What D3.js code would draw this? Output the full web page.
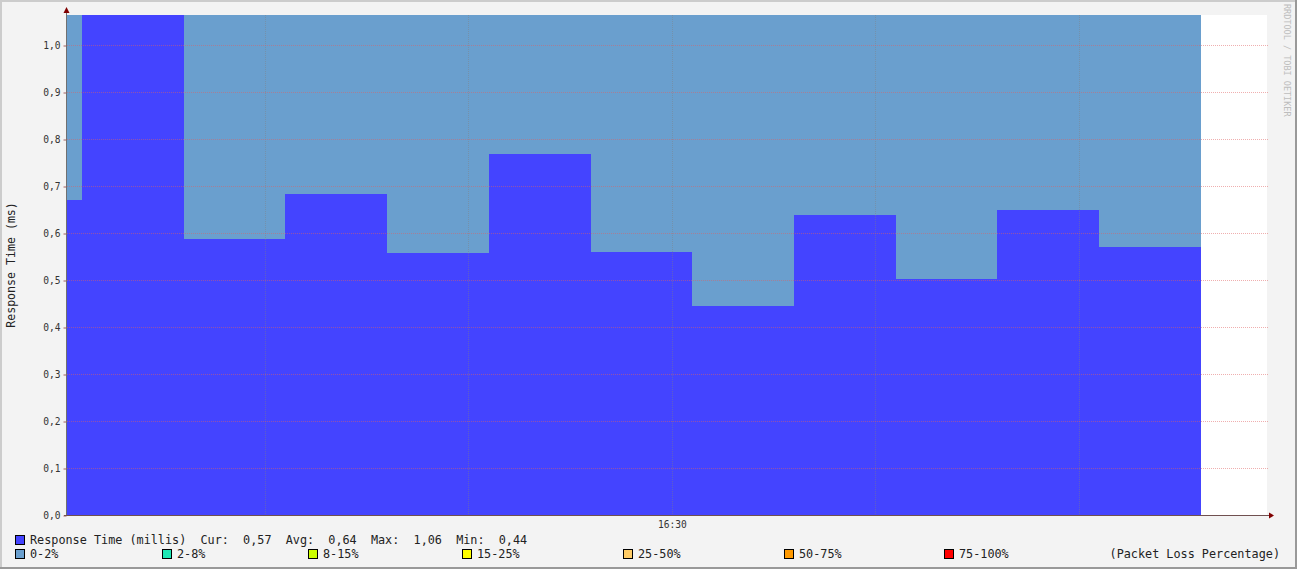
<!DOCTYPE html>
<html><head><meta charset="utf-8">
<script src="https://cdn.jsdelivr.net/npm/d3@7"></script>
<style>
html,body{margin:0;padding:0;background:#f3f3f3;}
svg{display:block;}
text{font-family:"DejaVu Sans Mono",monospace;}
</style></head>
<body><svg id="c" width="1297" height="569"></svg>
<script>
// ---- data ----
const stepEnds = ["16:01","16:06","16:11","16:16","16:21","16:26","16:31","16:36","16:41","16:46","16:51","16:56"];
const responseMs = [0.670, 1.064, 0.587, 0.683, 0.557, 0.768, 0.560, 0.445, 0.638, 0.502, 0.649, 0.570];
const lossPct = [0,0,0,0,0,0,0,0,0,0,0,0];
const yTicks = [0,0.1,0.2,0.3,0.4,0.5,0.6,0.7,0.8,0.9,1.0];
const xTickLabels = ["16:30"];
const lossBands = ["0-2%","2-8%","8-15%","15-25%","25-50%","50-75%","75-100%"];
const lossLimits = [2,8,15,25,50,75,100];
const lossColors = ["#6a9fce","#1de8b5","#ccff00","#ffff00","#ffcc66","#ff9900","#ff0000"];
const statNames = ["Cur","Avg","Max","Min"];
const statValues = ["0,57","0,64","1,06","0,44"];

const W=1297,H=569;
const svg=d3.select("#c");
const day=(hm,s=0)=>{const [h,m]=hm.split(":").map(Number);return new Date(2024,0,1,h,m,s);};
const L=67,R=1267,T=15,B=515;
const x=d3.scaleTime().domain([day("16:00",16),day("16:59",15)]).range([L,R]);
const y=d3.scaleLinear().domain([0,500/470]).range([B,T]);
const STEP=5*60*1000;
const loc=d3.formatLocale({decimal:",",thousands:".",grouping:[3],currency:["",""]});
const f1=loc.format(".1f");

// frame
svg.append("rect").attr("width",W).attr("height",H).attr("fill","#f3f3f3");
svg.append("rect").attr("x",0).attr("y",0).attr("width",W).attr("height",2).attr("fill","#cccccc");
svg.append("rect").attr("x",0).attr("y",0).attr("width",2).attr("height",H).attr("fill","#cccccc");
svg.append("rect").attr("x",W-2).attr("y",0).attr("width",2).attr("height",H).attr("fill","#999999");
svg.append("rect").attr("x",0).attr("y",H-2).attr("width",W).attr("height",2).attr("fill","#999999");

// plot bg
svg.append("rect").attr("x",L).attr("y",T).attr("width",R-L).attr("height",B-T).attr("fill","#ffffff");
svg.append("clipPath").attr("id","pc").append("rect").attr("x",L).attr("y",T).attr("width",R-L).attr("height",B-T);

const ends=stepEnds.map(s=>day(s));
const pts=ends.map((e,i)=>({t:new Date(+e-STEP),v:responseMs[i],l:lossPct[i]}));
pts.push({t:ends[ends.length-1],v:responseMs[responseMs.length-1],l:lossPct[lossPct.length-1]});
const g=svg.append("g").attr("clip-path","url(#pc)").attr("shape-rendering","crispEdges");
const bandOf=l=>lossLimits.findIndex(lim=>l<=lim);
// loss background: merge consecutive steps of same band
const runs=[];
pts.slice(0,-1).forEach((p,i)=>{
  const b=bandOf(p.l);
  if(runs.length&&runs[runs.length-1].b===b){runs[runs.length-1].e=pts[i+1].t;}
  else runs.push({b:b,s:p.t,e:pts[i+1].t});
});
runs.forEach(r=>{
  g.append("path").datum([{t:r.s},{t:r.e}])
   .attr("d",d3.area().x(d=>x(d.t)).y0(y(0)).y1(y.range()[1]).curve(d3.curveStepAfter))
   .attr("fill",lossColors[r.b]);
});
// response area
g.append("path").datum(pts)
 .attr("d",d3.area().x(d=>x(d.t)).y0(y(0)).y1(d=>y(d.v)).curve(d3.curveStepAfter))
 .attr("fill","#4444ff");

// grid
const vgrid=d3.timeMinute.every(10).range(x.domain()[0],x.domain()[1]);
svg.append("g").selectAll("line").data(vgrid).join("line")
 .attr("x1",d=>Math.round(x(d))+0.5).attr("x2",d=>Math.round(x(d))+0.5)
 .attr("y1",T).attr("y2",B).attr("stroke","#808080").attr("stroke-opacity",0.45)
 .attr("stroke-dasharray","1,1");
svg.append("g").selectAll("line").data(yTicks.slice(1)).join("line")
 .attr("x1",L).attr("x2",R+1).attr("y1",d=>Math.round(y(d))+0.5).attr("y2",d=>Math.round(y(d))+0.5)
 .attr("stroke","#e06060").attr("stroke-opacity",0.5).attr("stroke-dasharray","1,1");

// y axis
const ya=svg.append("g").attr("transform",`translate(${L-0.5},0)`)
 .call(d3.axisLeft(y).tickValues(yTicks).tickFormat(f1).tickSize(3).tickPadding(3));
ya.select(".domain").remove();
ya.selectAll("line").attr("stroke","#a06060").attr("transform","translate(0,0.5)");
ya.selectAll("text").attr("font-family","DejaVu Sans Mono").attr("font-size","9.6px").attr("fill","#333");

// x axis
const xa=svg.append("g").attr("transform",`translate(0,${B})`)
 .call(d3.axisBottom(x).tickValues(xTickLabels.map(s=>day(s))).tickFormat(d3.timeFormat("%H:%M")).tickSize(0).tickPadding(6));
xa.select(".domain").remove();
xa.selectAll("text").attr("font-family","DejaVu Sans Mono").attr("font-size","9.6px").attr("fill","#333");

// axis lines + arrows
svg.append("line").attr("x1",L-0.5).attr("x2",L-0.5).attr("y1",10).attr("y2",B+1).attr("stroke","#707070");
svg.append("line").attr("x1",L-3).attr("x2",R+3).attr("y1",B+0.5).attr("y2",B+0.5).attr("stroke","#705050");
svg.append("path").attr("d",`M${L-3.5},13 L${L-0.5},7 L${L+2.5},13 Z`).attr("fill","#800000");
svg.append("path").attr("d",`M${R+2},${B-2.5} L${R+7},${B+0.5} L${R+2},${B+3.5} Z`).attr("fill","#800000");

// y title
svg.append("text").attr("transform","translate(15,265) rotate(-90)").attr("text-anchor","middle")
 .attr("font-size","11.6px").attr("fill","#222").text("Response Time (ms)");
// watermark
svg.append("text").attr("transform","translate(1284,4) rotate(90)").attr("font-size","8.5px")
 .attr("fill","#bdbdbd").text("RRDTOOL / TOBI OETIKER");

// legend row 1
const lg=svg.append("g");
lg.append("rect").attr("x",15.5).attr("y",535.5).attr("width",9).attr("height",9).attr("fill","#4444ff").attr("stroke","#000");
let s="Response Time (millis)";
statNames.forEach((n,i)=>{s+="  "+n+":  "+statValues[i];});
lg.append("text").attr("x",30).attr("y",544).attr("font-size","11.8px").attr("fill","#222")
 .style("white-space","pre").text(s);
// legend row 2
const lx=[15,162,308,462,623,784,944];
lossBands.forEach((b,i)=>{
  lg.append("rect").attr("x",lx[i]+0.5).attr("y",549.5).attr("width",9).attr("height",9).attr("fill",lossColors[i]).attr("stroke","#000");
  lg.append("text").attr("x",lx[i]+15).attr("y",558).attr("font-size","11.8px").attr("fill","#222").text(b);
});
lg.append("text").attr("x",1280).attr("y",558).attr("text-anchor","end").attr("font-size","11.8px").attr("fill","#222")
 .style("white-space","pre").text("(Packet Loss Percentage)");
</script></body></html>
